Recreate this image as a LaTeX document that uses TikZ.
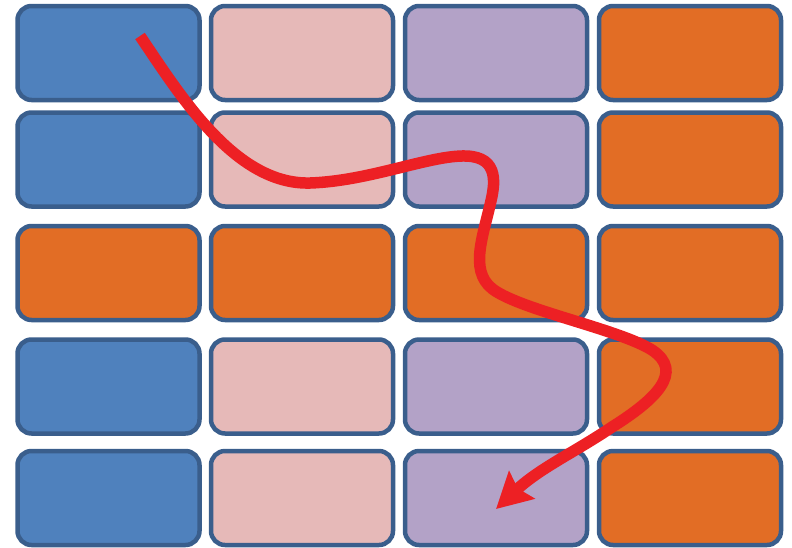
\documentclass[tikz,border=0pt]{standalone}
\usetikzlibrary{arrows.meta}
\definecolor{cblue}{HTML}{4F81BD}
\definecolor{cpink}{HTML}{E6B9B8}
\definecolor{cpurple}{HTML}{B3A2C7}
\definecolor{corange}{HTML}{E26D25}
\definecolor{cborder}{HTML}{3A5E8C}
\definecolor{cred}{HTML}{ED2024}
\begin{document}
\begin{tikzpicture}[x=1pt,y=-1pt,
  brick/.style={draw=cborder, line width=4.5pt, rounded corners=14pt,
    minimum width=182pt, minimum height=94pt, inner sep=0pt},
  path arrow/.style={draw=cred, line width=11.5pt,
    -{Stealth[length=35pt,width=37pt,inset=5pt]}}]
\useasboundingbox (0,0) rectangle (792,547);
\foreach \r/\y/\ca/\cb/\cc in {1/53/cblue/cpink/cpurple, 2/159.5/cblue/cpink/cpurple,
   3/273/corange/corange/corange, 4/386.5/cblue/cpink/cpurple, 5/498/cblue/cpink/cpurple}{
  \node[brick, fill=\ca] (b\r1) at (108.5,\y) {};
  \node[brick, fill=\cb] (b\r2) at (302,\y) {};
  \node[brick, fill=\cc] (b\r3) at (496,\y) {};
  \node[brick, fill=corange] (b\r4) at (690,\y) {};
}
\coordinate (start) at (140,36);
\coordinate (tip) at (496,509);
\draw[path arrow] (start) .. controls (180,95) and (235,185) .. (310,183)
  .. controls (370,181) and (430,155) .. (466,156)
  .. controls (500,157) and (495,185) .. (490,205)
  .. controls (482,240) and (468,275) .. (497,292)
  .. controls (530,312) and (620,330) .. (652,350)
  .. controls (685,372) and (655,400) .. (612,427)
  .. controls (575,452) and (540,468) .. (tip);
\end{tikzpicture}
\end{document}
